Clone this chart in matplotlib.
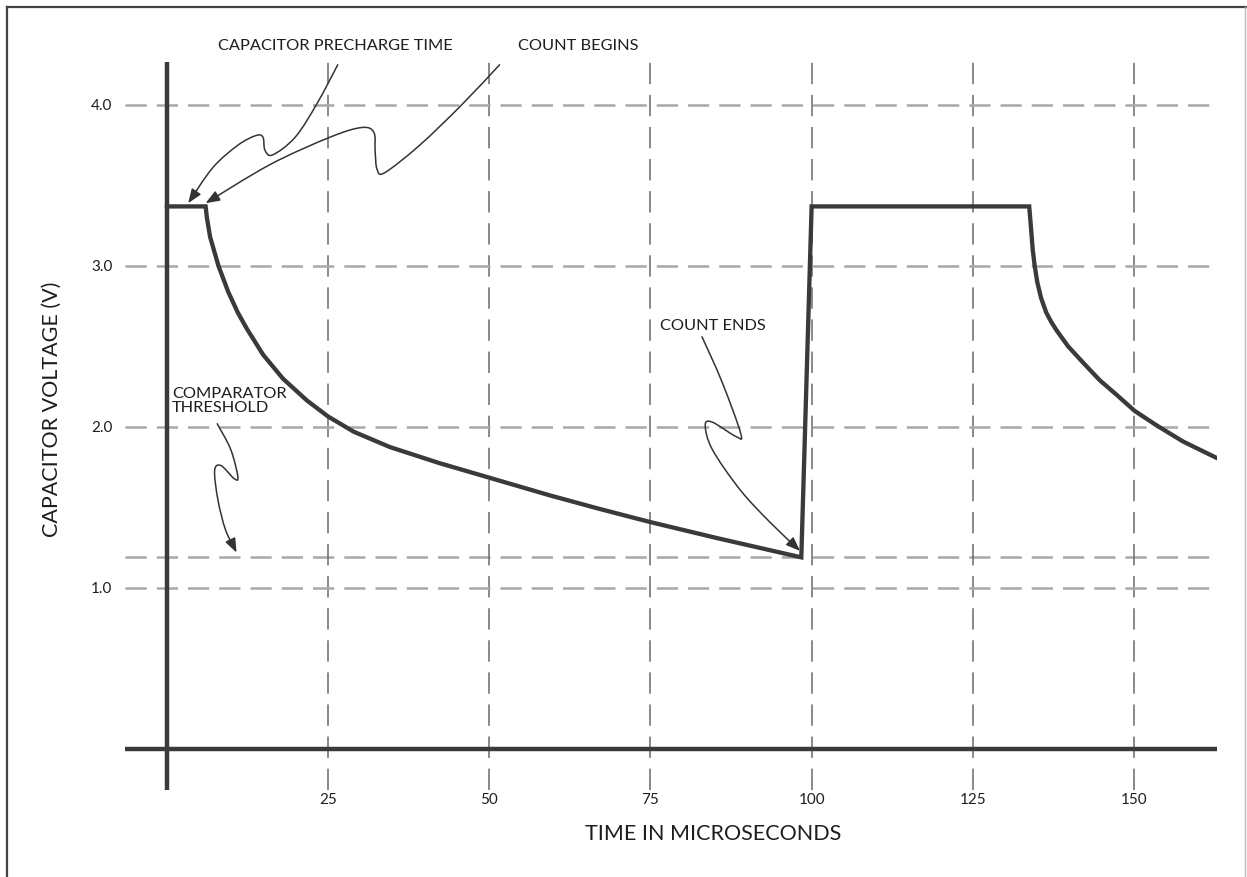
import matplotlib
matplotlib.use('Agg')
import matplotlib.pyplot as plt
from matplotlib.path import Path
from matplotlib.patches import FancyArrowPatch
from matplotlib.lines import Line2D

plt.rcParams['font.family'] = ['Lato', 'DejaVu Sans']

# capacitor voltage trace
time_us = [0, 6.0, 6.2, 6.7, 8.0, 9.5, 11.0, 12.4, 14.9, 18.0, 21.7, 25.0, 29.0, 34.6, 42.3,
           50.0, 59.4, 67.2, 74.9, 85.3, 98.4,
           100.0, 133.75, 134.0, 134.3, 134.6, 135.0, 135.6, 136.4, 137.2, 138.0, 139.8,
           142.1, 144.7, 147.3, 150.1, 153.5, 157.6, 162.7]
volts = [3.37, 3.37, 3.30, 3.18, 3.0, 2.84, 2.71, 2.61, 2.45, 2.30, 2.165, 2.065, 1.97, 1.875, 1.775,
         1.685, 1.575, 1.49, 1.41, 1.31, 1.19,
         3.37, 3.37, 3.25, 3.10, 3.0, 2.90, 2.80, 2.71, 2.65, 2.60, 2.50,
         2.40, 2.29, 2.20, 2.10, 2.01, 1.91, 1.81]
threshold = 1.19

x_ticks = [25, 50, 75, 100, 125, 150]
y_ticks = [1.0, 2.0, 3.0, 4.0]

# leader lines for the callouts (time, volts), last point is the arrow tip
precharge_path = [(26.5, 4.25), (23.3, 4.01), (19.9, 3.80), (16.4, 3.69), (15.2, 3.72),
                  (14.9, 3.80), (13.8, 3.81), (11.0, 3.75), (7.1, 3.61), (3.3, 3.39)]
begins_path = [(51.6, 4.25), (45.7, 4.0), (39.2, 3.75), (33.8, 3.58), (32.6, 3.60), (32.3, 3.71),
               (32.1, 3.83), (30.2, 3.86), (25.3, 3.80), (16.0, 3.63), (6.0, 3.39)]
ends_path = [(83.0, 2.56), (86.1, 2.28), (89.0, 1.96), (88.3, 1.94), (84.6, 2.03), (83.5, 2.01),
             (84.6, 1.86), (88.9, 1.61), (93.5, 1.41), (98.2, 1.23)]
comparator_path = [(7.8, 2.02), (9.9, 1.86), (11.0, 1.69), (10.4, 1.68), (8.4, 1.76), (7.4, 1.73),
                   (7.9, 1.55), (9.1, 1.36), (10.8, 1.22)]

ink = '#3a3a3a'
txt = '#1e1e1e'

fig = plt.figure(figsize=(12.47, 8.77), dpi=100)
ax = fig.add_axes([0.1002, 0.0992, 0.8757, 0.8301])
ax.set_xlim(-6.51, 162.87)
ax.set_ylim(-0.255, 4.267)
for s in ax.spines.values():
    s.set_visible(False)

ax.set_xticks(x_ticks)
ax.set_xticklabels([str(t) for t in x_ticks])
ax.set_yticks(y_ticks)
ax.set_yticklabels(['%.1f' % v for v in y_ticks])
ax.tick_params(length=0, labelsize=11, colors=txt)
ax.tick_params(axis='x', pad=2)
ax.tick_params(axis='y', pad=9)

ax.set_axisbelow(True)
ax.xaxis.grid(True, color='#6a6a6a', linewidth=1.1, linestyle=(0, (14, 7)))
ax.yaxis.grid(True, color='#a8a8a8', linewidth=1.8, linestyle=(0, (8.5, 4)))
ax.axhline(threshold, color='#a8a8a8', linewidth=1.8, linestyle=(0, (8.5, 4)), zorder=0.5)

ax.axhline(0, color=ink, linewidth=3.2, solid_capstyle='butt', zorder=3)
ax.axvline(0, color=ink, linewidth=3.2, solid_capstyle='butt', zorder=3)

ax.plot(time_us, volts, color=ink, linewidth=3.1, solid_joinstyle='miter', zorder=4)


def smooth_path(pts):
    # catmull-rom through the points, written as cubic bezier segments
    verts = [pts[0]]
    codes = [Path.MOVETO]
    for i in range(len(pts) - 1):
        p0 = pts[i - 1] if i > 0 else pts[i]
        p1 = pts[i]
        p2 = pts[i + 1]
        p3 = pts[i + 2] if i + 2 < len(pts) else pts[i + 1]
        c1 = (p1[0] + (p2[0] - p0[0]) / 6, p1[1] + (p2[1] - p0[1]) / 6)
        c2 = (p2[0] - (p3[0] - p1[0]) / 6, p2[1] - (p3[1] - p1[1]) / 6)
        verts += [c1, c2, p2]
        codes += [Path.CURVE4] * 3
    return Path(verts, codes)


for pts in [precharge_path, begins_path, ends_path, comparator_path]:
    arr = FancyArrowPatch(path=smooth_path(pts),
                          arrowstyle='-|>,head_length=8.5,head_width=3.3',
                          mutation_scale=1, color='#333333', linewidth=1.1,
                          zorder=5, clip_on=False)
    ax.add_patch(arr)

lbl = dict(fontsize=11.8, color=txt)
fig.text(218 / 1247, 1 - 46 / 877, 'CAPACITOR PRECHARGE TIME', ha='left', va='center', **lbl)
fig.text(518 / 1247, 1 - 46 / 877, 'COUNT BEGINS', ha='left', va='center', **lbl)
fig.text(660 / 1247, 1 - 326 / 877, 'COUNT ENDS', ha='left', va='center', **lbl)
fig.text(172 / 1247, 1 - 401 / 877, 'COMPARATOR\nTHRESHOLD', ha='left', va='center',
         linespacing=1.05, **lbl)

fig.text(713 / 1247, 1 - 834 / 877, 'TIME IN MICROSECONDS', ha='center', va='center',
         fontsize=15.5, color=txt)
fig.text(52 / 1247, 1 - 409 / 877, 'CAPACITOR VOLTAGE (V)', ha='center', va='center',
         rotation=90, fontsize=15.5, color=txt)

# picture frame
fig.add_artist(Line2D([7 / 1247, 1], [1 - 7 / 877, 1 - 7 / 877], color='#444444', linewidth=1.6))
fig.add_artist(Line2D([7 / 1247, 7 / 1247], [0, 1 - 7 / 877], color='#444444', linewidth=1.6))
fig.add_artist(Line2D([1245 / 1247, 1245 / 1247], [0, 1 - 7 / 877], color='#bbbbbb', linewidth=1.0))

fig.savefig('out.png', dpi=100)
